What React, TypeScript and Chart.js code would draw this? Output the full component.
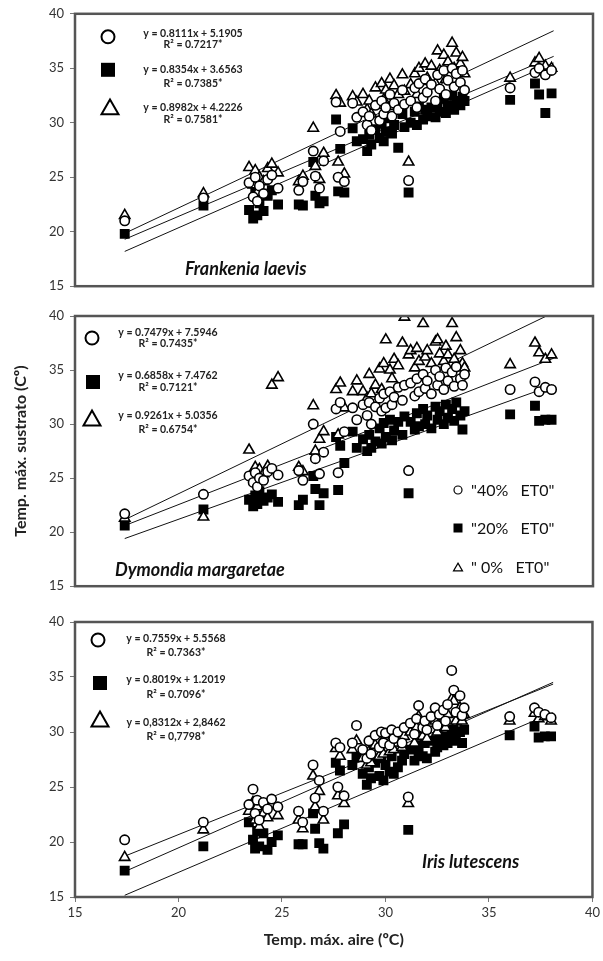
import React, { useEffect, useRef } from 'react';
import { Chart, registerables } from 'chart.js';

Chart.register(...registerables);

// ---------- DATA ----------
const airTemp = [17.4, 21.2, 23.4, 23.6, 23.7, 23.8, 23.9, 24.1, 24.3, 24.5, 24.8, 25.8, 26.0, 26.5, 26.6, 26.8, 27.0, 27.6, 27.7, 27.8, 28.0, 28.4, 28.6, 28.9, 29.1, 29.2, 29.3, 29.5, 29.7, 29.8, 29.9, 30.0, 30.2, 30.3, 30.4, 30.6, 30.8, 30.9, 31.1, 31.2, 31.4, 31.5, 31.6, 31.8, 31.9, 32.0, 32.2, 32.4, 32.5, 32.6, 32.8, 32.9, 33.0, 33.2, 33.3, 33.4, 33.6, 33.7, 33.8, 36.0, 37.2, 37.4, 37.7, 38.0];

// Frankenia laevis
const frankenia40 = [21.0, 23.1, 24.5, 23.2, 25.0, 22.8, 24.2, 23.5, 24.8, 25.2, 24.0, 23.8, 24.6, 27.4, 25.1, 24.0, 26.5, 31.9, 25.0, 29.2, 24.6, 31.8, 30.5, 31.0, 29.8, 30.6, 29.3, 31.6, 30.2, 32.0, 30.8, 31.4, 32.6, 30.6, 31.8, 31.2, 33.0, 31.7, 24.7, 32.0, 33.2, 31.4, 33.6, 32.3, 34.0, 32.8, 33.5, 32.0, 34.4, 33.1, 34.8, 32.6, 33.9, 35.0, 33.3, 34.5, 33.7, 34.8, 33.0, 33.2, 34.6, 35.0, 34.4, 34.8];
const frankenia20 = [19.8, 22.4, 22.0, 21.2, 23.9, 21.5, 22.6, 21.9, 23.3, 23.8, 22.5, 22.5, 22.4, 26.4, 23.3, 22.6, 22.8, 30.3, 23.7, 27.6, 23.6, 29.5, 28.3, 28.5, 27.4, 28.9, 28.0, 29.4, 28.6, 29.9, 28.3, 29.2, 30.4, 29.0, 29.8, 27.7, 30.8, 29.6, 23.6, 30.0, 31.0, 29.8, 31.5, 30.3, 31.2, 30.6, 31.4, 30.5, 31.8, 31.0, 32.2, 30.9, 31.6, 32.5, 31.2, 32.0, 31.6, 32.4, 32.0, 32.1, 33.6, 32.6, 30.9, 32.7];
const frankenia0 = [21.5, 23.5, 25.9, 24.3, 25.6, 23.6, 25.0, 24.6, 25.8, 26.2, 25.4, 24.6, 25.1, 29.5, 26.0, 24.8, 27.2, 32.5, 26.4, 31.8, 25.3, 32.4, 31.9, 32.6, 31.2, 32.0, 30.8, 33.2, 31.6, 33.6, 32.1, 33.0, 34.0, 31.5, 33.4, 32.6, 34.4, 32.9, 26.4, 33.5, 34.5, 32.6, 35.0, 33.8, 35.4, 34.1, 35.2, 33.6, 36.6, 34.8, 36.2, 34.0, 35.6, 37.3, 35.0, 36.4, 35.4, 36.0, 34.5, 34.1, 35.5, 35.9, 35.2, 35.0];

// Dymondia margaretae
const dymondia40 = [21.7, 23.5, 25.2, 24.6, 25.5, 24.2, 25.0, 24.8, 25.6, 25.9, 25.3, 25.7, 24.8, 30.0, 26.8, 25.4, 27.4, 31.4, 25.5, 32.0, 29.3, 31.5, 30.4, 31.8, 30.8, 32.0, 30.0, 31.6, 32.4, 31.2, 32.8, 31.5, 33.0, 31.8, 32.5, 33.4, 32.2, 33.6, 25.7, 33.8, 32.6, 34.2, 33.0, 34.6, 33.3, 34.0, 32.8, 35.0, 33.6, 34.4, 33.2, 35.2, 34.0, 34.8, 33.5, 35.3, 34.2, 33.6, 34.6, 33.2, 33.9, 33.0, 33.4, 33.2];
const dymondia20 = [20.6, 22.1, 23.0, 22.4, 23.4, 22.6, 23.8, 22.9, 23.2, 23.5, 22.8, 22.5, 23.0, 25.2, 24.0, 22.5, 23.6, 28.8, 23.9, 28.0, 26.4, 29.3, 27.8, 28.6, 27.5, 29.0, 27.8, 28.4, 29.6, 28.2, 30.1, 28.8, 30.4, 28.5, 29.4, 30.2, 29.0, 30.7, 23.6, 30.2, 29.5, 31.0, 29.8, 31.4, 30.0, 30.8, 29.6, 31.6, 30.4, 31.2, 30.0, 31.8, 30.6, 31.4, 30.3, 32.0, 30.8, 29.5, 31.2, 30.9, 31.7, 30.3, 30.4, 30.4];
const dymondia0 = [21.3, 21.4, 27.6, 25.5, 26.0, 25.1, 25.8, 25.4, 26.1, 33.6, 34.3, 26.0, 25.6, 31.7, 27.5, 28.6, 29.3, 33.2, 29.0, 33.8, 31.5, 33.0, 34.0, 33.0, 32.4, 34.6, 32.8, 33.6, 35.1, 33.2, 35.6, 37.8, 35.0, 34.2, 36.0, 35.4, 37.5, 39.9, 36.4, 36.8, 35.2, 37.0, 35.8, 39.3, 36.2, 36.8, 35.6, 37.6, 37.8, 36.5, 35.8, 37.2, 36.4, 39.3, 36.0, 38.0, 36.8, 35.6, 35.2, 35.5, 37.5, 36.6, 36.0, 36.4];

// Iris lutescens
const iris40 = [20.2, 21.8, 23.4, 24.8, 22.6, 23.8, 22.0, 23.6, 23.0, 23.9, 23.2, 22.8, 21.8, 27.0, 24.0, 25.6, 22.8, 29.0, 25.0, 28.6, 24.2, 29.0, 30.6, 28.4, 27.6, 29.2, 28.0, 29.7, 28.6, 30.0, 29.0, 29.9, 28.8, 30.2, 29.4, 30.0, 29.0, 30.4, 24.1, 30.8, 29.8, 31.2, 32.4, 30.4, 31.0, 30.2, 31.4, 32.2, 30.6, 31.6, 32.0, 31.0, 32.5, 35.6, 33.8, 31.8, 33.3, 31.5, 32.2, 31.4, 32.2, 31.8, 31.6, 31.3];
const iris20 = [17.4, 19.6, 21.8, 20.2, 19.4, 21.0, 19.6, 20.8, 19.3, 20.0, 20.6, 19.8, 19.8, 22.6, 21.2, 19.9, 19.4, 27.2, 20.8, 26.5, 21.6, 27.0, 27.8, 26.2, 25.2, 26.8, 25.8, 27.2, 26.0, 27.6, 25.6, 27.0, 26.4, 27.8, 26.2, 26.8, 27.4, 28.0, 21.1, 28.4, 27.4, 28.8, 28.2, 27.8, 29.0, 27.6, 29.2, 28.2, 28.6, 29.4, 28.8, 29.6, 29.0, 29.8, 30.2, 29.2, 30.0, 29.0, 30.2, 29.7, 30.5, 29.5, 29.6, 29.6];
const iris0 = [18.6, 21.1, 22.8, 23.6, 22.0, 23.2, 21.4, 22.6, 22.2, 23.4, 22.4, 22.0, 21.2, 26.0, 23.2, 24.6, 22.0, 28.5, 24.2, 27.8, 23.5, 28.4, 29.2, 27.6, 27.0, 28.2, 27.2, 28.8, 27.8, 29.0, 28.0, 28.9, 28.2, 29.4, 28.4, 29.0, 28.6, 29.6, 23.5, 30.0, 29.0, 30.4, 31.4, 29.6, 30.2, 29.4, 30.8, 31.0, 30.0, 30.8, 31.2, 30.4, 31.6, 33.0, 32.8, 31.0, 32.2, 31.0, 31.6, 31.0, 31.7, 31.2, 31.4, 31.0];

// Trend lines [40%, 20%, 0%]: slopes and intercepts as printed
const frankeniaSlopes = [0.8111, 0.8354, 0.8982];
const frankeniaIntercepts = [5.1905, 3.6563, 4.2226];
const dymondiaSlopes = [0.7479, 0.6858, 0.9261];
const dymondiaIntercepts = [7.5946, 7.4762, 5.0356];
const irisSlopes = [0.7559, 0.8019, 0.8312];
const irisIntercepts = [5.5568, 1.2019, 2.8462];
const trendRange = [17.4, 38.1];

const frankeniaEqs = ['y = 0.8111x + 5.1905', 'y = 0.8354x + 3.6563', 'y = 0.8982x + 4.2226'];
const frankeniaR2 = ['R² = 0.7217*', 'R² = 0.7385*', 'R² = 0.7581*'];
const dymondiaEqs = ['y = 0.7479x + 7.5946', 'y = 0.6858x + 7.4762', 'y = 0.9261x + 5.0356'];
const dymondiaR2 = ['R² = 0.7435*', 'R² = 0.7121*', 'R² = 0.6754*'];
const irisEqs = ['y = 0.7559x + 5.5568', 'y = 0.8019x + 1.2019', 'y = 0,8312x + 2,8462'];
const irisR2 = ['R² = 0.7363*', 'R² = 0.7096*', 'R² = 0,7798*'];

const seriesNames = ['"40%   ET0"', '"20%   ET0"', '" 0%   ET0"'];
const axisTicks = [15, 20, 25, 30, 35, 40];
const xTitle = 'Temp. máx. aire (ºC)';
const yTitle = 'Temp. máx. sustrato (Cº)';

// ---------- DRAWING ----------
type Glyph = 'circle' | 'square' | 'triangle';
const glyphs: Glyph[] = ['circle', 'square', 'triangle'];

function drawGlyph(ctx: CanvasRenderingContext2D, kind: Glyph, x: number, y: number, s: number, lw: number) {
  ctx.save();
  ctx.lineWidth = lw;
  ctx.strokeStyle = '#000';
  if (kind === 'circle') {
    ctx.beginPath();
    ctx.arc(x, y, s / 2, 0, Math.PI * 2);
    ctx.fillStyle = '#fff';
    ctx.fill();
    ctx.stroke();
  } else if (kind === 'square') {
    ctx.fillStyle = '#000';
    ctx.fillRect(x - s / 2, y - s / 2, s, s);
  } else {
    const h = s * 0.87;
    ctx.beginPath();
    ctx.moveTo(x, y - h / 2);
    ctx.lineTo(x + s / 2, y + h / 2);
    ctx.lineTo(x - s / 2, y + h / 2);
    ctx.closePath();
    ctx.fillStyle = '#fff';
    ctx.fill();
    ctx.stroke();
  }
  ctx.restore();
}

type PanelProps = {
  top: number;
  height: number;
  padTop: number;
  padBottom: number;
  s40: number[];
  s20: number[];
  s0: number[];
  slopes: number[];
  intercepts: number[];
  eqs: string[];
  r2: string[];
  glyphPos: number[][];
  glyphSize: number[];
  eqX: number;
  eqY: number[];
  r2Y: number[];
  species: string;
  speciesPos: number[];
  showX: boolean;
  showYTitle: boolean;
  showSeriesLegend: boolean;
};

const tickFont = { family: 'Lato', size: 13 };

function Panel(p: PanelProps) {
  const ref = useRef<HTMLCanvasElement>(null);
  useEffect(() => {
    if (!ref.current) return;
    const pts = (ys: number[]) => airTemp.map((x, i) => ({ x, y: ys[i] }));
    const fit = (k: number) => trendRange.map((x) => ({ x, y: p.slopes[k] * x + p.intercepts[k] }));

    const frame = {
      id: 'frame',
      afterDatasetsDraw(chart: any) {
        const { ctx, chartArea: a } = chart;
        ctx.save();
        ctx.strokeStyle = '#555';
        ctx.lineWidth = 2.5;
        ctx.strokeRect(a.left, a.top, a.right - a.left, a.bottom - a.top);
        ctx.restore();
      },
    };

    const annot = {
      id: 'annot',
      afterDraw(chart: any) {
        const { ctx, chartArea: a } = chart;
        ctx.save();
        glyphs.forEach((g, k) => {
          drawGlyph(ctx, g, a.left + p.glyphPos[k][0], a.top + p.glyphPos[k][1], p.glyphSize[k], 2);
        });
        ctx.fillStyle = '#222';
        ctx.textAlign = 'center';
        ctx.textBaseline = 'middle';
        ctx.font = 'bold 10.5px Lato';
        p.eqs.forEach((t, k) => {
          ctx.fillText(t, a.left + p.eqX, a.top + p.eqY[k]);
          ctx.fillText(p.r2[k], a.left + p.eqX, a.top + p.r2Y[k]);
        });
        ctx.textAlign = 'left';
        ctx.font = 'italic bold 18px Lato';
        ctx.fillStyle = '#111';
        ctx.fillText(p.species, a.left + p.speciesPos[0], a.top + p.speciesPos[1]);
        if (p.showSeriesLegend) {
          ctx.font = '16px Lato';
          ctx.fillStyle = '#111';
          const ly = [174, 212, 251];
          const lsz = [8, 9, 9];
          glyphs.forEach((g, k) => {
            drawGlyph(ctx, g, a.left + 383, a.top + ly[k], lsz[k], 1.2);
            ctx.fillText(seriesNames[k], a.left + 396, a.top + ly[k] + 1);
          });
        }
        ctx.restore();
      },
    };

    const pointDs = (ys: number[], kind: Glyph) => ({
      data: pts(ys),
      pointStyle: kind === 'square' ? 'rect' : kind,
      pointRadius: kind === 'square' ? 7 : kind === 'circle' ? 4.7 : 6,
      pointBackgroundColor: kind === 'square' ? '#000' : '#fff',
      pointBorderColor: '#000',
      pointBorderWidth: kind === 'square' ? 0 : 1.6,
      showLine: false,
    });
    const lineDs = (k: number) => ({
      data: fit(k),
      showLine: true,
      borderColor: '#111',
      borderWidth: 1,
      pointRadius: 0,
    });

    const chart = new Chart(ref.current, {
      type: 'scatter',
      data: {
        datasets: [
          pointDs(p.s40, 'circle'),
          pointDs(p.s0, 'triangle'),
          pointDs(p.s20, 'square'),
          lineDs(0),
          lineDs(1),
          lineDs(2),
        ] as any,
      },
      options: {
        animation: false,
        responsive: false,
        maintainAspectRatio: false,
        layout: { padding: { top: p.padTop, bottom: p.padBottom, left: 0, right: 10 } },
        plugins: { legend: { display: false }, tooltip: { enabled: false } },
        scales: {
          x: {
            type: 'linear',
            min: axisTicks[0],
            max: axisTicks[axisTicks.length - 1],
            display: p.showX,
            afterBuildTicks: (s: any) => { s.ticks = axisTicks.map((v) => ({ value: v })); },
            ticks: { font: tickFont, color: '#333', padding: 3 },
            grid: { display: true, drawOnChartArea: false, tickLength: 5, color: '#777' },
            border: { display: false },
            title: {
              display: p.showX,
              text: xTitle,
              color: '#222',
              font: { family: 'Lato', size: 16, weight: 'bold' },
              padding: { top: 4, bottom: 12 },
            },
            afterFit: (s: any) => { if (p.showX) s.height = 64; },
          },
          y: {
            type: 'linear',
            min: axisTicks[0],
            max: axisTicks[axisTicks.length - 1],
            afterBuildTicks: (s: any) => { s.ticks = axisTicks.map((v) => ({ value: v })); },
            ticks: { font: tickFont, color: '#333', padding: 6 },
            grid: { display: true, drawOnChartArea: false, tickLength: 5, color: '#777' },
            border: { display: false },
            title: {
              display: p.showYTitle,
              text: yTitle,
              color: '#222',
              font: { family: 'Lato', size: 16, weight: 'bold' },
              padding: { top: 11, bottom: 0 },
            },
            afterFit: (s: any) => { s.width = 75; },
          },
        },
      } as any,
      plugins: [frame, annot],
    });
    return () => chart.destroy();
  }, []);
  return (
    <canvas
      ref={ref}
      width={603}
      height={p.height}
      style={{ position: 'absolute', left: 0, top: p.top, width: 603, height: p.height }}
    />
  );
}

export default function App() {
  return (
    <div style={{ position: 'absolute', left: 0, top: 0, width: 603, height: 961, background: '#fff' }}>
      <Panel
        top={0} height={300} padTop={12} padBottom={11}
        s40={frankenia40} s20={frankenia20} s0={frankenia0}
        slopes={frankeniaSlopes} intercepts={frankeniaIntercepts}
        eqs={frankeniaEqs} r2={frankeniaR2}
        glyphPos={[[33, 23], [33, 56], [35, 93]]} glyphSize={[13, 14, 17]}
        eqX={118} eqY={[20, 56, 94]} r2Y={[31, 70, 106]}
        species="Frankenia laevis" speciesPos={[110, 255]}
        showX={false} showYTitle={false} showSeriesLegend={false}
      />
      <Panel
        top={300} height={300} padTop={16} padBottom={11}
        s40={dymondia40} s20={dymondia20} s0={dymondia0}
        slopes={dymondiaSlopes} intercepts={dymondiaIntercepts}
        eqs={dymondiaEqs} r2={dymondiaR2}
        glyphPos={[[17, 22], [18, 66], [17, 102]]} glyphSize={[13, 14, 17]}
        eqX={93} eqY={[17, 60, 100]} r2Y={[28, 72, 114]}
        species="Dymondia margaretae" speciesPos={[40, 254]}
        showX={false} showYTitle={true} showSeriesLegend={true}
      />
      <Panel
        top={600} height={361} padTop={22} padBottom={0}
        s40={iris40} s20={iris20} s0={iris0}
        slopes={irisSlopes} intercepts={irisIntercepts}
        eqs={irisEqs} r2={irisR2}
        glyphPos={[[23, 18], [25, 61], [25, 97]]} glyphSize={[13, 14, 17]}
        eqX={101} eqY={[17, 58, 101]} r2Y={[31, 73, 115]}
        species="Iris lutescens" speciesPos={[347, 240]}
        showX={true} showYTitle={false} showSeriesLegend={false}
      />
    </div>
  );
}
